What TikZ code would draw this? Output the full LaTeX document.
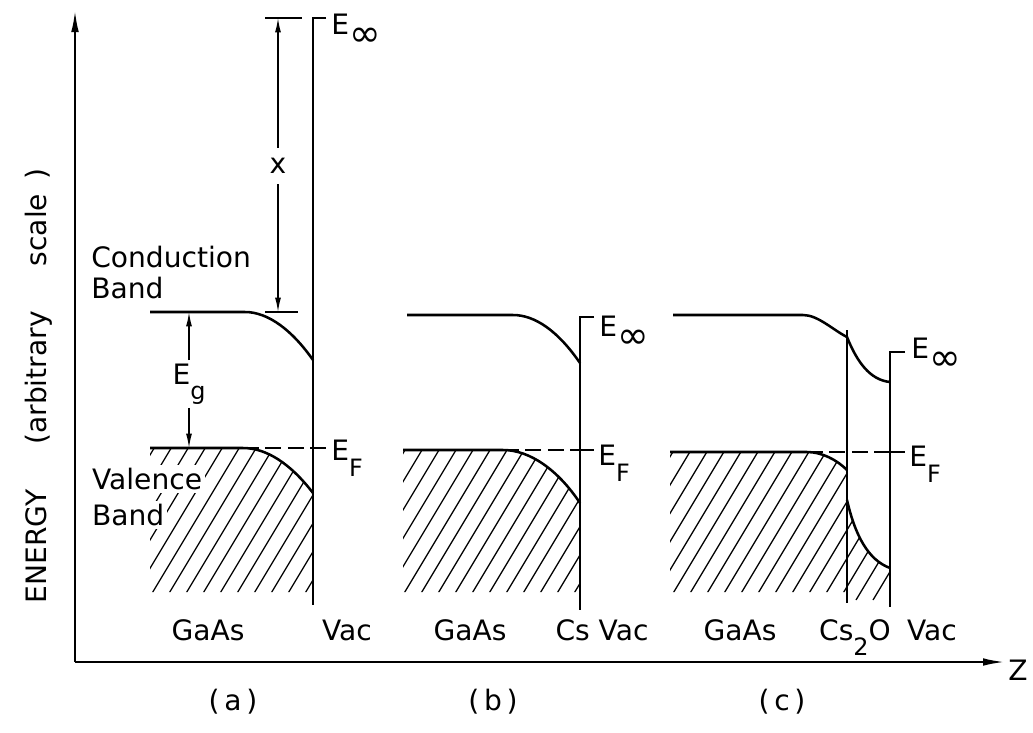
\documentclass[tikz,border=0pt]{standalone}
\usepackage{fontspec}
\setmainfont{DejaVu Sans}
\usepackage{tikz}
\usetikzlibrary{arrows.meta, positioning}

\newcommand{\lowsub}[1]{\raisebox{-1ex}{\fontsize{17}{17}\selectfont #1}}
\newcommand{\infsub}{\raisebox{-0.75ex}{\fontsize{27}{27}\selectfont ∞}}

\tikzset{
  axis/.style={line width=1.6pt, -{Latex[length=5.5mm, width=1.9mm]}},
  band/.style={line width=1.8pt},
  wall/.style={line width=1.8pt},
  fermi/.style={line width=1pt, dash pattern=on 4mm off 1.6mm},
  hatch/.style={line width=0.9pt},
  dimline/.style={line width=1pt},
  dimarrow/.style={line width=1pt, -{Latex[length=3.6mm, width=1.5mm]}},
  lbl/.style={font=\fontsize{20}{22}\selectfont, inner sep=0pt},
}

\begin{document}
\begin{tikzpicture}[x=0.25mm, y=-0.25mm]
\useasboundingbox (0,0) rectangle (1033,732);

% Axes
\coordinate (origin) at (75,662);
\coordinate (ytip) at (75,10);
\coordinate (ztip) at (1005,662);
\draw[axis] (origin) -- (ytip);
\draw[axis] (origin) -- (ztip);
\node[lbl, anchor=west] (zlab) at (1008,670) {Z};
\node[lbl, rotate=90] (ylab) at (39,386) {ENERGY\hspace{1.6em}(arbitrary\hspace{1.6em}scale\hspace{0.5em})};

% Hatching
\begin{scope}
  \clip (150,448) -- (243,448) .. controls (266,448) and (290,463) .. (313,493) -- (313,592) -- (150,592) -- cycle;
  \foreach \k in {0,...,15} \draw[hatch] ({63+\k*17},600) -- ++(102,-170);
\end{scope}
\begin{scope}
  \clip (403,450) -- (503,450) .. controls (530,450) and (558,470) .. (580,503) -- (580,592) -- (403,592) -- cycle;
  \foreach \k in {0,...,15} \draw[hatch] ({315+\k*17},600) -- ++(102,-170);
\end{scope}
\begin{scope}
  \clip (670,452) -- (807,452) .. controls (822,452) and (837,460) .. (847,470) -- (847,592) -- (670,592) -- cycle
        (847,500) .. controls (855,535) and (868,560) .. (890,568) -- (890,600) -- (847,600) -- cycle;
  \foreach \k in {0,...,18} \draw[hatch] ({584+\k*17},600) -- ++(102,-170);
\end{scope}

% Panel (a)
\draw[band] (150,312) -- (245,312) .. controls (268,312) and (292,330) .. (313,360);
\draw[band] (150,448) -- (243,448) .. controls (266,448) and (290,463) .. (313,493);
\draw[fermi] (243,448) -- (313,448);
\draw[band] (313,448) -- (326,448);
\draw[wall] (326,18) -- (313,18) -- (313,605);
\node[lbl, anchor=north west] (einfa) at (331,14) {E\infsub};
\node[lbl, anchor=north west] (efa) at (331,440) {E\lowsub{F}};
\node[lbl, anchor=north west, align=left] (cb) at (91,246) {Conduction\\Band};
\node[lbl, anchor=north west, fill=white, inner sep=2pt] (vb1) at (89,465) {Valence};
\node[lbl, anchor=north west, fill=white, inner sep=2pt] (vb2) at (89,501) {Band};

% electron affinity
\draw[dimline] (265,18) -- (302,18);
\draw[dimline] (265,312) -- (298,312);
\coordinate (chitop) at (278,18);
\coordinate (chibot) at (278,312);
\node[lbl, inner sep=2.6mm] (chi) at (278,166) {x};
\draw[dimarrow] (chi) -- (chitop);
\draw[dimarrow] (chi) -- (chibot);

% band gap
\coordinate (egtop) at (189,312);
\coordinate (egbot) at (189,448);
\node[lbl, inner sep=0.8mm] (eg) at (189,384) {E\lowsub{g}};
\draw[dimarrow] (eg) -- (egtop);
\draw[dimarrow] (eg) -- (egbot);

% Panel (b)
\draw[band] (407,315) -- (513,315) .. controls (535,315) and (558,331) .. (580,363);
\draw[band] (403,450) -- (503,450) .. controls (530,450) and (558,470) .. (580,503);
\draw[fermi] (503,450) -- (580,450);
\draw[band] (580,450) -- (594,450);
\draw[wall] (594,317) -- (580,317) -- (580,610);
\node[lbl, anchor=north west] (einfb) at (599,316) {E\infsub};
\node[lbl, anchor=north west] (efb) at (598,445) {E\lowsub{F}};

% Panel (c)
\draw[band] (673,315) -- (803,315) .. controls (818,315) and (833,330) .. (847,337)
            .. controls (857,362) and (870,380) .. (890,382);
\draw[band] (670,452) -- (807,452) .. controls (822,452) and (837,460) .. (847,470);
\draw[band] (847,500) .. controls (855,535) and (868,560) .. (890,568);
\draw[fermi] (807,452) -- (890,452);
\draw[band] (890,452) -- (905,452);
\draw[wall] (847,330) -- (847,603);
\draw[wall] (905,352) -- (890,352) -- (890,607);
\node[lbl, anchor=north west] (einfc) at (911,338) {E\infsub};
\node[lbl, anchor=north west] (efc) at (909,446) {E\lowsub{F}};

% Region labels
\foreach \x/\word/\nm in {208/GaAs/ga, 347/Vac/va, 470/GaAs/gb, 602/Cs Vac/vb,
                          740/GaAs/gc, 855/Cs\lowsub{2}O/cso, 932/Vac/vc}
  \node[lbl, anchor=base] (\nm) at (\x,640) {\word};
\foreach \x/\word/\nm in {233/a/pa, 493/b/pb, 782/c/pc}
  \node[lbl, anchor=base] (\nm) at (\x,710) {(\,\word\,)};
\end{tikzpicture}
\end{document}
